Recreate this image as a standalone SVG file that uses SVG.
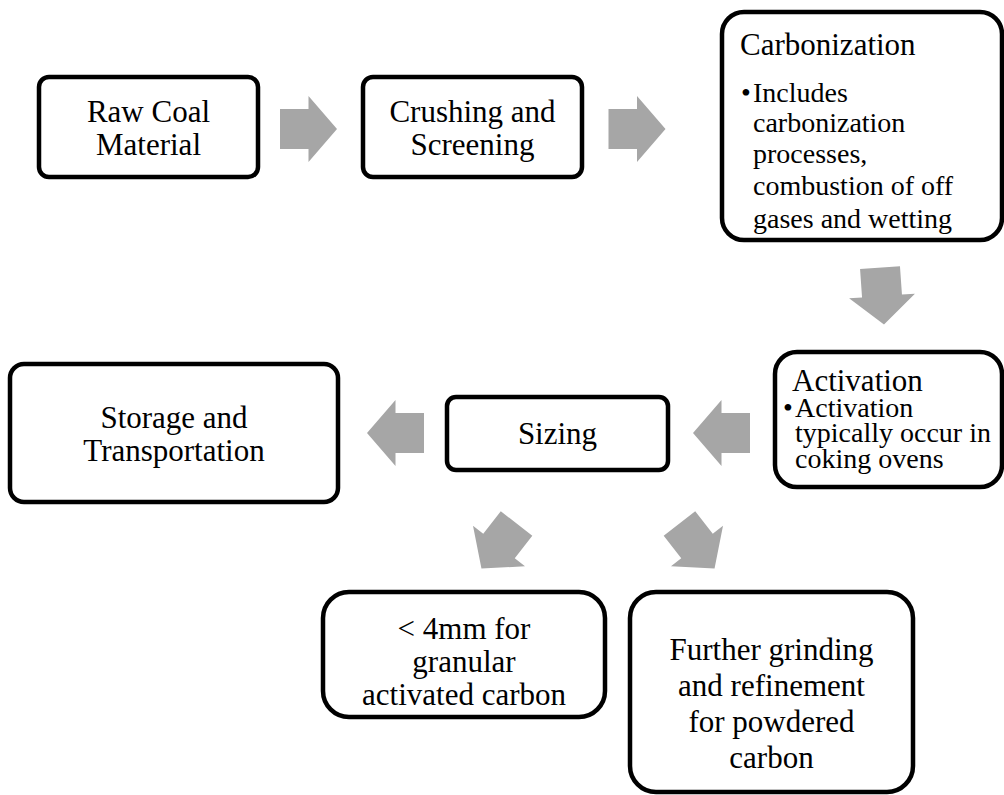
<svg xmlns="http://www.w3.org/2000/svg" xmlns:xlink="http://www.w3.org/1999/xlink" width="1004" height="795" viewBox="0 0 1004 795">
<style>
.box{fill:#fff;stroke:#000;stroke-width:4.5}
.t{font-family:'Liberation Serif','Times New Roman',serif;font-size:31px;fill:#000}
.c{text-anchor:middle}
.b{font-size:28px}
.arr{fill:#a6a6a6}
</style>
<defs>
<path id="arrow" d="M-28.5,-20 H0 V-33 L28.5,0 L0,33 V20 H-28.5 Z"/>
</defs>
<rect width="1004" height="795" fill="#fff"/>
<g id="connectors" class="arr">
<use xlink:href="#arrow" transform="translate(308.5,129)"/>
<use xlink:href="#arrow" transform="translate(637,129)"/>
<use xlink:href="#arrow" transform="translate(882,296) rotate(86)"/>
<use xlink:href="#arrow" transform="translate(721.5,433) rotate(180)"/>
<use xlink:href="#arrow" transform="translate(395.5,433) rotate(180)"/>
<use xlink:href="#arrow" transform="translate(499,546) rotate(128)"/>
<use xlink:href="#arrow" transform="translate(697,546) rotate(52)"/>
</g>
<g id="raw-coal">
<rect class="box" x="39" y="77" width="219" height="100" rx="10"/>
<text class="t c"><tspan x="148.5" y="122">Raw Coal</tspan><tspan x="148.5" y="155">Material</tspan></text>
</g>
<g id="crushing">
<rect class="box" x="363" y="77" width="219" height="100" rx="10"/>
<text class="t c"><tspan x="472.5" y="122">Crushing and</tspan><tspan x="472.5" y="155">Screening</tspan></text>
</g>
<g id="carbonization">
<rect class="box" x="722" y="12" width="280" height="228" rx="22"/>
<text class="t" x="740" y="55">Carbonization</text>
<text class="t b"><tspan x="741" y="102">•</tspan><tspan x="753" y="102">Includes</tspan><tspan x="753" y="132">carbonization</tspan><tspan x="753" y="163">processes,</tspan><tspan x="753" y="195">combustion of off</tspan><tspan x="753" y="228">gases and wetting</tspan></text>
</g>
<g id="activation">
<rect class="box" x="775" y="352" width="227" height="135" rx="22"/>
<text class="t" x="792" y="391">Activation</text>
<text class="t b"><tspan x="783" y="417">•</tspan><tspan x="795" y="417">Activation</tspan><tspan x="795" y="442">typically occur in</tspan><tspan x="795" y="468">coking ovens</tspan></text>
</g>
<g id="sizing">
<rect class="box" x="447" y="397" width="221" height="73" rx="9"/>
<text class="t c" x="557.5" y="444">Sizing</text>
</g>
<g id="storage">
<rect class="box" x="10" y="364" width="328" height="138" rx="14"/>
<text class="t c"><tspan x="174" y="428">Storage and</tspan><tspan x="174" y="461">Transportation</tspan></text>
</g>
<g id="granular">
<rect class="box" x="323" y="592" width="282" height="125" rx="26"/>
<text class="t c"><tspan x="464" y="639">&lt; 4mm for</tspan><tspan x="464" y="672">granular</tspan><tspan x="464" y="705">activated carbon</tspan></text>
</g>
<g id="powdered">
<rect class="box" x="630" y="592" width="283" height="200" rx="26"/>
<text class="t c"><tspan x="771.5" y="660">Further grinding</tspan><tspan x="771.5" y="696">and refinement</tspan><tspan x="771.5" y="732">for powdered</tspan><tspan x="771.5" y="768">carbon</tspan></text>
</g>
</svg>
